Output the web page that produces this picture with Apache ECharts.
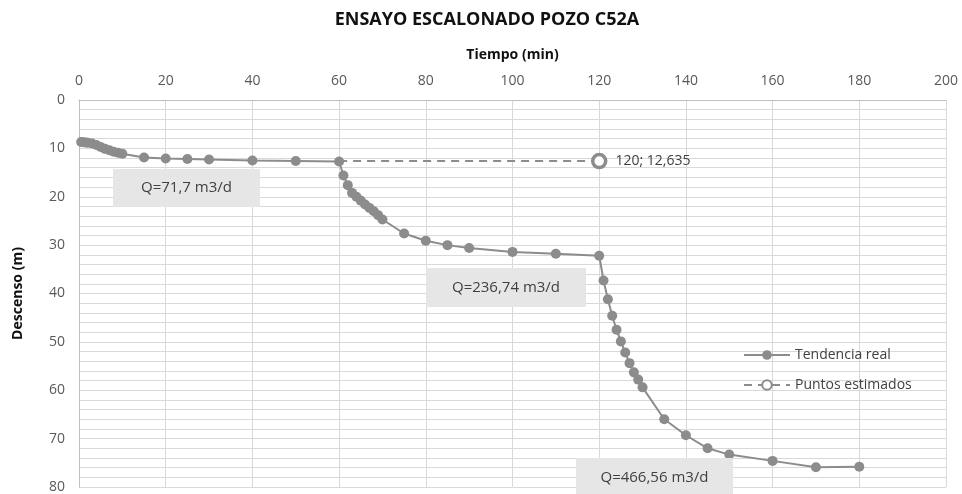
<!DOCTYPE html>
<html><head><meta charset="utf-8">
<script src="https://cdn.jsdelivr.net/npm/echarts@6/dist/echarts.min.js"></script>
<style>html,body{margin:0;padding:0;background:#fff}#c{width:962px;height:494px}</style>
</head><body><div id="c"></div>
<script>
const title = 'ENSAYO ESCALONADO POZO C52A';
const xName = 'Tiempo (min)';
const yName = 'Descenso (m)';
const realTimes = [0.5,1,1.5,2,3,4,5,6,7,8,9,10,15,20,25,30,40,50,60,
  61,62,63,64,65,66,67,68,69,70,75,80,85,90,100,110,120,
  121,122,123,124,125,126,127,128,129,130,135,140,145,150,160,170,180];
const realDepth = [8.7,8.75,8.8,8.85,9.0,9.3,9.7,10.1,10.4,10.7,10.9,11.1,11.9,12.1,12.2,12.3,12.5,12.6,12.7,
  15.6,17.6,19.2,20.0,20.8,21.6,22.3,23.0,23.8,24.7,27.6,29.1,30.0,30.6,31.4,31.8,32.2,
  37.3,41.2,44.6,47.5,49.9,52.2,54.4,56.3,57.8,59.4,66.0,69.3,72.0,73.3,74.6,75.9,75.8];
const estTimes = [60,120];
const estDepth = [12.635,12.635];
const estLabel = '120; 12,635';
const qLabels = ['Q=71,7 m3/d','Q=236,74 m3/d','Q=466,56 m3/d'];
const seriesNames = ['Tendencia real','Puntos estimados'];

const gray = '#8c8c8c';
const txt = '#404040';
const font = 'Open Sans';
const chart = echarts.init(document.getElementById('c'));
const box = (l,t,w,h,s)=>({type:'group',left:l,top:t,z:10,children:[
  {type:'rect',z:10,shape:{x:0,y:0,width:w,height:h},style:{fill:'#e6e6e6'}},
  {type:'text',z:11,x:w/2,y:h/2,style:{text:s,fill:txt,font:'15px "Open Sans"',align:'center',verticalAlign:'middle'}}]});
chart.setOption({
  animation:false,
  title:{text:title,left:482,textAlign:'center',top:6,textStyle:{fontFamily:font,fontWeight:'bold',fontSize:18,color:'#111'}},
  grid:{left:79,right:16,top:100,bottom:4,containLabel:false},
  legend:{orient:'vertical',left:738,top:343,itemWidth:46,itemHeight:12,itemGap:16,
    textStyle:{fontFamily:font,fontSize:14,color:txt},data:seriesNames},
  xAxis:{type:'value',position:'top',min:0,max:200,interval:20,
    name:xName,nameLocation:'middle',nameGap:38,
    nameTextStyle:{fontFamily:font,fontWeight:'bold',fontSize:14,color:'#111'},
    axisLine:{show:true,lineStyle:{color:'#bfbfbf'}},axisTick:{show:false},
    axisLabel:{fontFamily:font,fontSize:14,color:'#595959',margin:12},
    splitLine:{show:true,lineStyle:{color:'#d9d9d9',width:1}}},
  yAxis:{type:'value',inverse:true,min:0,max:80,interval:10,
    name:yName,nameLocation:'middle',nameGap:54,
    nameTextStyle:{fontFamily:font,fontWeight:'bold',fontSize:14,color:'#111'},
    axisLine:{show:true,lineStyle:{color:'#bfbfbf'}},axisTick:{show:false},
    axisLabel:{fontFamily:font,fontSize:14,color:'#595959',margin:14},
    splitLine:{show:true,lineStyle:{color:'#d9d9d9',width:1}},
    minorTick:{show:false,splitNumber:5},
    minorSplitLine:{show:true,lineStyle:{color:'#d9d9d9',width:1}}},
  graphic:[box(113,169,147,38,qLabels[0]),box(426,268,160,39,qLabels[1]),box(576,458,157,40,qLabels[2])],
  series:[
    {name:seriesNames[0],type:'line',data:realTimes.map((t,i)=>[t,realDepth[i]]),
     symbol:'circle',symbolSize:10,showAllSymbol:true,z:3,
     lineStyle:{color:gray,width:2},itemStyle:{color:gray}},
    {name:seriesNames[1],type:'line',data:estTimes.map((t,i)=>({value:[t,estDepth[i]],
       symbol:i===0?'none':'circle',
       label:{show:i===1,position:'right',distance:8,formatter:estLabel,color:txt,fontFamily:font,fontSize:14}})),
     symbol:'circle',symbolSize:13,showAllSymbol:true,z:4,
     lineStyle:{color:gray,width:2,type:[8,6]},
     itemStyle:{color:'#fff',borderColor:gray,borderWidth:3.5}}
  ]
});
</script></body></html>
